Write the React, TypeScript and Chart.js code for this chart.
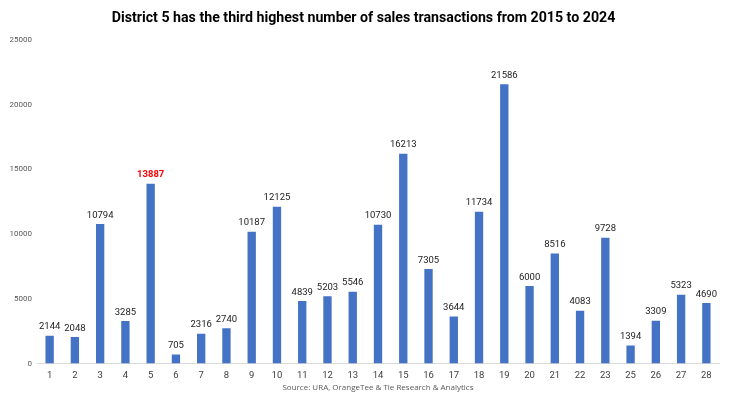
import React, { useEffect, useRef } from "react";
import { Chart, registerables } from "chart.js";

Chart.register(...registerables);

const districts = ["1","2","3","4","5","6","7","8","9","10","11","12","13","14","15","16","17","18","19","20","21","22","23","25","26","27","28"];
const transactions = [2144,2048,10794,3285,13887,705,2316,2740,10187,12125,4839,5203,5546,10730,16213,7305,3644,11734,21586,6000,8516,4083,9728,1394,3309,5323,4690];
const highlightDistrict = "5";
const yTicks = [0, 5000, 10000, 15000, 20000, 25000];
const titleText = "District 5 has the third highest number of sales transactions from 2015 to 2024";
const sourceText = "Source: URA, OrangeTee & Tie Research & Analytics";

const valueLabels = {
  id: "valueLabels",
  afterDatasetsDraw(chart: any) {
    const ctx = chart.ctx;
    const meta = chart.getDatasetMeta(0);
    ctx.save();
    ctx.textAlign = "center";
    ctx.textBaseline = "bottom";
    meta.data.forEach((bar: any, i: number) => {
      const hl = districts[i] === highlightDistrict;
      ctx.font = (hl ? "bold " : "") + "9.5px Roboto";
      ctx.fillStyle = hl ? "#ff0000" : "#222222";
      ctx.fillText(String(transactions[i]), bar.x, bar.y - 4);
    });
    ctx.restore();
  },
};

const sourceNote = {
  id: "sourceNote",
  afterDraw(chart: any) {
    const ctx = chart.ctx;
    const area = chart.chartArea;
    ctx.save();
    ctx.font = "8px 'Open Sans'";
    ctx.fillStyle = "#595959";
    ctx.textAlign = "center";
    ctx.textBaseline = "middle";
    ctx.fillText(sourceText, (area.left + area.right) / 2, chart.height - 5);
    ctx.restore();
  },
};

export default function App() {
  const ref = useRef<HTMLCanvasElement>(null);
  useEffect(() => {
    if (!ref.current) return;
    const chart = new Chart(ref.current, {
      type: "bar",
      data: {
        labels: districts,
        datasets: [
          {
            data: transactions,
            backgroundColor: "#4472C4",
            barPercentage: 0.33,
            categoryPercentage: 1,
          },
        ],
      },
      plugins: [valueLabels, sourceNote],
      options: {
        responsive: true,
        maintainAspectRatio: false,
        animation: false,
        layout: { padding: { left: 0, right: 3, top: 0, bottom: 6 } },
        plugins: {
          legend: { display: false },
          tooltip: { enabled: false },
          title: {
            display: true,
            text: titleText,
            color: "#000000",
            font: { family: "Roboto", size: 14.2, weight: "bold" },
            padding: { top: 2, bottom: 13 },
          },
        },
        scales: {
          x: {
            grid: { display: false, drawTicks: false },
            border: { display: true, color: "#d9d9d9", width: 1 },
            ticks: { color: "#404040", font: { family: "Roboto", size: 9.5 }, padding: 6 },
          },
          y: {
            min: 0,
            max: 25000,
            afterFit: (scale: any) => { scale.width = 29; },
            afterBuildTicks: (scale: any) => { scale.ticks = yTicks.map((v) => ({ value: v })); },
            grid: { display: false, drawTicks: false },
            border: { display: false },
            ticks: {
              color: "#595959",
              font: { family: "Roboto", size: 8 },
              padding: 5,
              callback: (v: any) => String(v),
            },
          },
        },
      },
    });
    return () => chart.destroy();
  }, []);
  return (
    <div style={{ width: 714, height: 385 }}>
      <canvas ref={ref} />
    </div>
  );
}
